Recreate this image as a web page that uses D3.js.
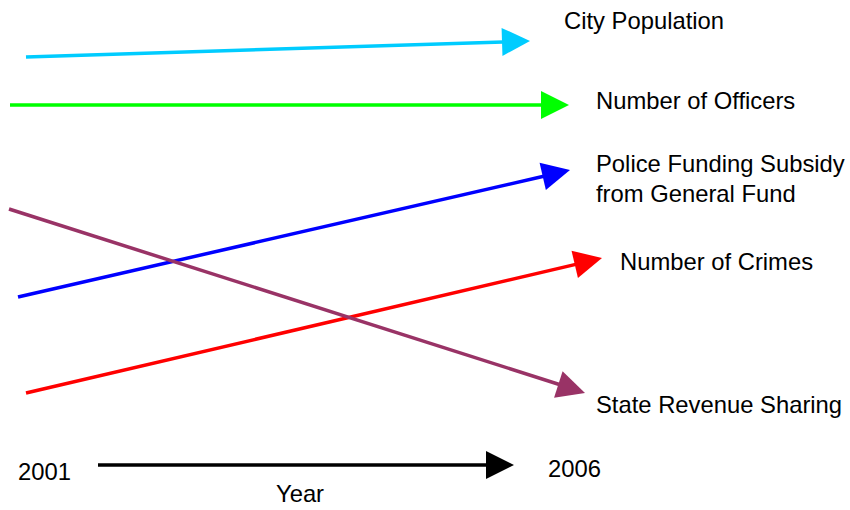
<!DOCTYPE html>
<html>
<head>
<meta charset="utf-8">
<script src="https://cdn.jsdelivr.net/npm/d3@7"></script>
<style>
  body { margin: 0; background: #fff; }
  text { font-family: "Liberation Sans", Arial, sans-serif; fill: #000; }
</style>
</head>
<body>
<div id="chart"></div>
<script>
// trend arrows, in chart units (0..850 across, 0..510 down)
var names = ["City Population", "Number of Officers", "Police Funding Subsidy|from General Fund", "Number of Crimes", "State Revenue Sharing"];
var colors = ["#00ccff", "#00ff00", "#0000ff", "#ff0000", "#993366"];
var startX = [26, 10, 18, 26, 9];
var startY = [57, 105, 297, 393, 209];
var endX = [530, 569, 570, 602, 585];
var endY = [41, 105, 170, 258, 393];
var labelX = [564, 596, 596, 620, 596];
var labelY = [29, 109, 172, 270, 413];

var years = ["2001", "2006"];
var yearArrow = {x0: 98, x1: 514, y: 465};

var width = 850, height = 510;
var headLen = 28, headHalf = 14;
var fontSize = "23.8px";

var x = d3.scaleLinear().domain([0, 850]).range([0, width]);
var y = d3.scaleLinear().domain([0, 510]).range([0, height]);

var svg = d3.select("#chart").append("svg")
    .attr("width", width)
    .attr("height", height);

var data = names.map(function(n, i) {
  return {name: n, color: colors[i], x0: startX[i], y0: startY[i], x1: endX[i], y1: endY[i], lx: labelX[i], ly: labelY[i]};
});
data.push({name: null, color: "#000", x0: yearArrow.x0, y0: yearArrow.y, x1: yearArrow.x1, y1: yearArrow.y});

function geom(d) {
  var ax = x(d.x0), ay = y(d.y0), bx = x(d.x1), by = y(d.y1);
  var dx = bx - ax, dy = by - ay, len = Math.sqrt(dx*dx + dy*dy);
  var ux = dx/len, uy = dy/len;
  var baseX = bx - ux*headLen, baseY = by - uy*headLen;
  return {ax: ax, ay: ay, bx: bx, by: by, baseX: baseX, baseY: baseY, px: -uy, py: ux};
}

svg.selectAll(".trend")
    .data(data)
  .enter().append("line")
    .attr("class", "trend")
    .attr("x1", function(d) { return geom(d).ax; })
    .attr("y1", function(d) { return geom(d).ay; })
    .attr("x2", function(d) { return geom(d).baseX + 1; })
    .attr("y2", function(d) { return geom(d).baseY; })
    .style("stroke", function(d) { return d.color; })
    .style("stroke-width", 3.5);

svg.selectAll(".head")
    .data(data)
  .enter().append("path")
    .attr("class", "head")
    .attr("d", function(d) {
      var g = geom(d);
      return "M" + g.bx + "," + g.by +
        "L" + (g.baseX + g.px*headHalf) + "," + (g.baseY + g.py*headHalf) +
        "L" + (g.baseX - g.px*headHalf) + "," + (g.baseY - g.py*headHalf) + "Z";
    })
    .style("fill", function(d) { return d.color; });

// labels
var lab = svg.selectAll(".label")
    .data(data.filter(function(d) { return d.name; }))
  .enter().append("text")
    .attr("class", "label")
    .attr("x", function(d) { return x(d.lx); })
    .attr("y", function(d) { return y(d.ly); })
    .style("font-size", fontSize);
lab.selectAll("tspan")
    .data(function(d) { return d.name.split("|").map(function(t) { return {t: t, x: x(d.lx)}; }); })
  .enter().append("tspan")
    .attr("x", function(t) { return t.x; })
    .attr("dy", function(t, i) { return i ? 30 : 0; })
    .text(function(t) { return t.t; });

// year axis
svg.append("text")
    .attr("x", x(18)).attr("y", y(480))
    .style("font-size", fontSize)
    .text(years[0]);
svg.append("text")
    .attr("x", x(548)).attr("y", y(477))
    .style("font-size", fontSize)
    .text(years[1]);
svg.append("text")
    .attr("x", x(300)).attr("y", y(502))
    .attr("text-anchor", "middle")
    .style("font-size", fontSize)
    .text("Year");
</script>
</body>
</html>
